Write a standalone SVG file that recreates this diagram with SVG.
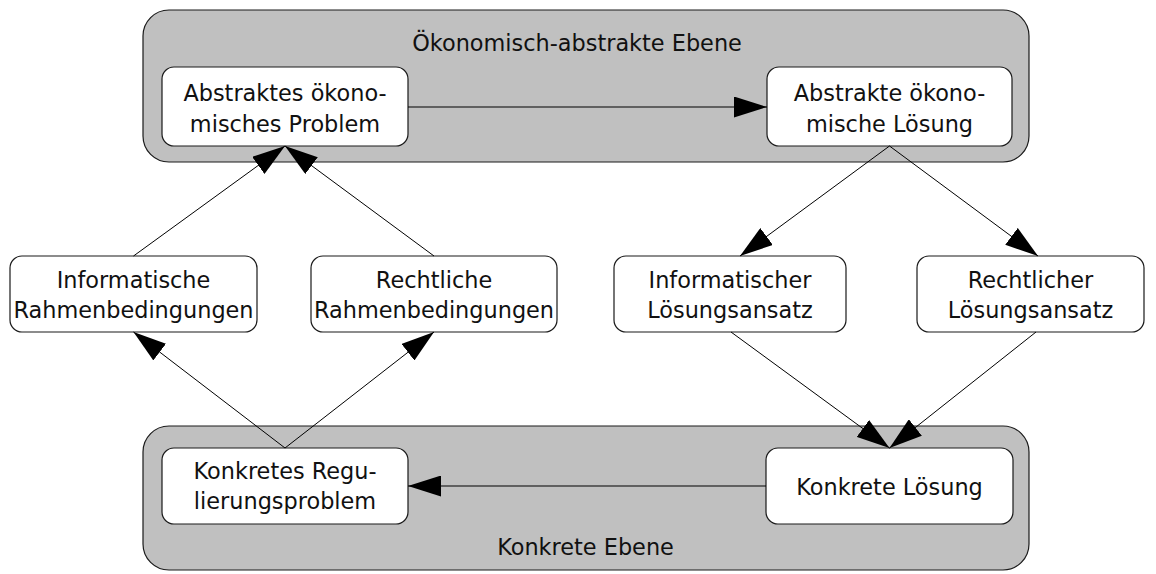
<svg xmlns="http://www.w3.org/2000/svg" width="1156" height="574" viewBox="0 0 1156 574">
<style>
.cont{fill:#c0c0c0;stroke:#1a1a1a;stroke-width:1.2}
.box{fill:#fff;stroke:#1a1a1a;stroke-width:1.2}
text{font-family:"DejaVu Sans",sans-serif;font-size:22.4px;fill:#111;text-anchor:middle}
.edge{stroke:#000;stroke-width:1;fill:none;marker-end:url(#ah)}
</style>
<defs>
<marker id="ah" viewBox="0 0 33 21" refX="33" refY="10.5" markerWidth="33" markerHeight="21" markerUnits="userSpaceOnUse" orient="auto">
<path d="M0,0 L33,10.5 L0,21 z" fill="#000"/>
</marker>
</defs>
<g id="ebene-abstrakt">
<rect class="cont" x="143" y="10" width="886" height="152" rx="26" ry="26"/>
<text x="577" y="51">Ökonomisch-abstrakte Ebene</text>
</g>
<g id="ebene-konkret">
<rect class="cont" x="143" y="426" width="886" height="144" rx="26" ry="26"/>
<text x="585.5" y="555">Konkrete Ebene</text>
</g>
<g id="abstraktes-problem">
<rect class="box" x="162" y="67" width="246" height="79" rx="12" ry="12"/>
<text x="285" y="101">Abstraktes ökono-</text>
<text x="285" y="132">misches Problem</text>
</g>
<g id="abstrakte-loesung">
<rect class="box" x="767" y="67" width="245" height="79" rx="12" ry="12"/>
<text x="889.5" y="101">Abstrakte ökono-</text>
<text x="889.5" y="132">mische Lösung</text>
</g>
<g id="informatische-rahmen">
<rect class="box" x="10" y="256" width="247" height="76" rx="12" ry="12"/>
<text x="133.5" y="288">Informatische</text>
<text x="133.5" y="318">Rahmenbedingungen</text>
</g>
<g id="rechtliche-rahmen">
<rect class="box" x="311" y="256" width="246" height="76" rx="12" ry="12"/>
<text x="434" y="288">Rechtliche</text>
<text x="434" y="318">Rahmenbedingungen</text>
</g>
<g id="informatischer-ansatz">
<rect class="box" x="614" y="256" width="232" height="76" rx="12" ry="12"/>
<text x="730" y="288">Informatischer</text>
<text x="730" y="318">Lösungsansatz</text>
</g>
<g id="rechtlicher-ansatz">
<rect class="box" x="917" y="256" width="227" height="76" rx="12" ry="12"/>
<text x="1030.5" y="288">Rechtlicher</text>
<text x="1030.5" y="318">Lösungsansatz</text>
</g>
<g id="konkretes-problem">
<rect class="box" x="162" y="448" width="246" height="76" rx="12" ry="12"/>
<text x="285" y="479">Konkretes Regu-</text>
<text x="285" y="509">lierungsproblem</text>
</g>
<g id="konkrete-loesung">
<rect class="box" x="766" y="448" width="247" height="76" rx="12" ry="12"/>
<text x="889.5" y="495">Konkrete Lösung</text>
</g>
<g id="connectors">
<line class="edge" x1="408" y1="107" x2="767" y2="107"/>
<line class="edge" x1="766" y1="486" x2="408" y2="486"/>
<line class="edge" x1="133.5" y1="256" x2="285" y2="146"/>
<line class="edge" x1="434" y1="256" x2="285" y2="146"/>
<line class="edge" x1="889.5" y1="146" x2="740" y2="256"/>
<line class="edge" x1="889.5" y1="146" x2="1038" y2="256"/>
<line class="edge" x1="285" y1="448" x2="133.5" y2="332"/>
<line class="edge" x1="285" y1="448" x2="434" y2="332"/>
<line class="edge" x1="731" y1="332" x2="889.5" y2="448"/>
<line class="edge" x1="1036" y1="332" x2="889.5" y2="448"/>
</g>
</svg>
